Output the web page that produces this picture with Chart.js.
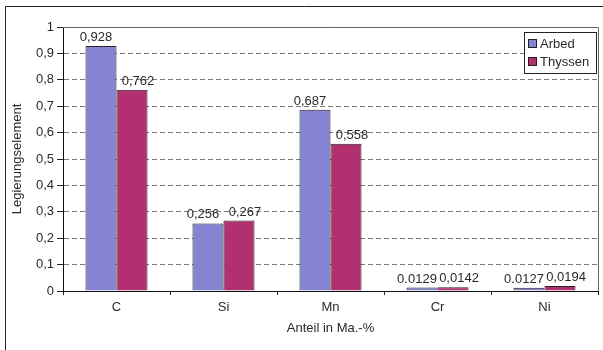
<!DOCTYPE html>
<html>
<head>
<meta charset="utf-8">
<script src="https://cdn.jsdelivr.net/npm/chart.js@4.4.0/dist/chart.umd.min.js"></script>
<style>
  html, body { margin: 0; padding: 0; background: #fff; }
  #wrap { width: 603px; height: 350px; }
</style>
</head>
<body>
<div id="wrap"><canvas id="cv" width="603" height="350"></canvas></div>
<script>
// Legierungselemente und Anteile je Hersteller
const elemente = ['C', 'Si', 'Mn', 'Cr', 'Ni'];
const arbed = [0.928, 0.256, 0.687, 0.0129, 0.0127];
const thyssen = [0.762, 0.267, 0.558, 0.0142, 0.0194];
// Beschriftungen der Balken, so wie sie im Diagramm stehen
const arbedText = ['0,928', '0,256', '0,687', '0.0129', '0.0127'];
const thyssenText = ['0,762', '0,267', '0,558', '0,0142', '0,0194'];
const yLabels = ['0', '0,1', '0,2', '0,3', '0,4', '0,5', '0,6', '0,7', '0,8', '0,9', '1'];

const schrift = 'Liberation Sans, Arial, sans-serif';
const textFarbe = '#2a2a2a';
const farben = ['#8484d2', '#b22f70'];

// aeusserer Rahmen (nur links und oben sichtbar)
const rahmen = {
    id: 'rahmen',
    beforeDraw(chart) {
        let c = chart.ctx;
        c.save();
        c.strokeStyle = '#222';
        c.lineWidth = 1;
        c.beginPath();
        c.moveTo(5.5, 350);
        c.lineTo(5.5, 6.5);
        c.lineTo(603, 6.5);
        c.stroke();
        c.restore();
    }
};

// Zeichenflaeche oben und rechts grau umranden
const plotRand = {
    id: 'plotRand',
    afterDatasetsDraw(chart) {
        let c = chart.ctx, a = chart.chartArea;
        c.save();
        c.strokeStyle = '#666';
        c.lineWidth = 1;
        c.beginPath();
        c.moveTo(a.left, Math.round(a.top) + 0.5);
        c.lineTo(Math.round(a.right) + 0.5, Math.round(a.top) + 0.5);
        c.lineTo(Math.round(a.right) + 0.5, a.bottom);
        c.stroke();
        c.restore();
    }
};

// Werte ueber die Balken schreiben, Arbed etwas nach links, Thyssen nach rechts
const werte = {
    id: 'werte',
    afterDatasetsDraw(chart) {
        let c = chart.ctx,
            texte = [arbedText, thyssenText],
            versatz = [-5, 6];
        c.save();
        c.font = '13px ' + schrift;
        c.fillStyle = textFarbe;
        c.textAlign = 'center';
        c.textBaseline = 'bottom';
        chart.data.datasets.forEach((ds, i) => {
            chart.getDatasetMeta(i).data.forEach((bar, j) => {
                c.fillText(texte[i][j], bar.x + versatz[i], bar.y - 2);
            });
        });
        c.restore();
    }
};

// Legende mit Kasten rechts oben
const legende = {
    id: 'legende',
    afterDraw(chart) {
        let c = chart.ctx,
            x = 524, y = 32;
        c.save();
        c.fillStyle = '#fff';
        c.fillRect(x, y, 72, 41);
        c.strokeStyle = '#222';
        c.lineWidth = 1;
        c.strokeRect(x + 0.5, y + 0.5, 72, 41);
        c.font = '13px ' + schrift;
        c.textBaseline = 'middle';
        chart.data.datasets.forEach((ds, i) => {
            let yy = y + 11 + i * 18;
            c.fillStyle = ds.backgroundColor;
            c.fillRect(x + 4, yy - 4, 8, 8);
            c.strokeRect(x + 4.5, yy - 3.5, 8, 8);
            c.fillStyle = textFarbe;
            c.fillText(ds.label, x + 16, yy + 1);
        });
        c.restore();
    }
};

const datensaetze = [
    { label: 'Arbed', data: arbed, backgroundColor: farben[0] },
    { label: 'Thyssen', data: thyssen, backgroundColor: farben[1] }
].map(d => Object.assign(d, {
    borderColor: '#222',
    borderWidth: 1,
    categoryPercentage: 0.58,
    barPercentage: 1
}));

new Chart(document.getElementById('cv'), {
    type: 'bar',
    data: { labels: elemente, datasets: datensaetze },
    options: {
        responsive: false,
        animation: false,
        layout: { padding: { left: 0, top: 27, right: 5, bottom: 0 } },
        plugins: {
            legend: { display: false },
            tooltip: { enabled: false }
        },
        scales: {
            x: {
                afterFit(s) { s.height = 59; },
                grid: { drawOnChartArea: false, tickLength: 4, tickColor: '#222', offset: true },
                border: { color: '#111' },
                ticks: { color: textFarbe, font: { family: schrift, size: 13 }, padding: 5 },
                title: {
                    display: true, text: 'Anteil in Ma.-%', color: textFarbe,
                    font: { family: schrift, size: 13 }, padding: { top: 0, bottom: 14 }
                }
            },
            y: {
                min: 0, max: 1,
                afterFit(s) { s.width = 63; },
                grid: {
                    color: ctx => (ctx.tick && (ctx.tick.value === 0 || ctx.tick.value === 1)) ? 'rgba(0,0,0,0)' : '#7a7a7a',
                    tickColor: '#222',
                    tickLength: 6
                },
                border: { color: '#111', dash: [5, 3] },
                ticks: {
                    stepSize: 0.1,
                    color: textFarbe,
                    font: { family: schrift, size: 13 },
                    padding: 3,
                    callback: v => yLabels[Math.round(v * 10)]
                },
                title: {
                    display: true, text: 'Legierungselement', color: textFarbe,
                    font: { family: schrift, size: 13 }, padding: { top: 10, bottom: 0 }
                }
            }
        }
    },
    plugins: [rahmen, plotRand, werte, legende]
});
</script>
</body>
</html>
